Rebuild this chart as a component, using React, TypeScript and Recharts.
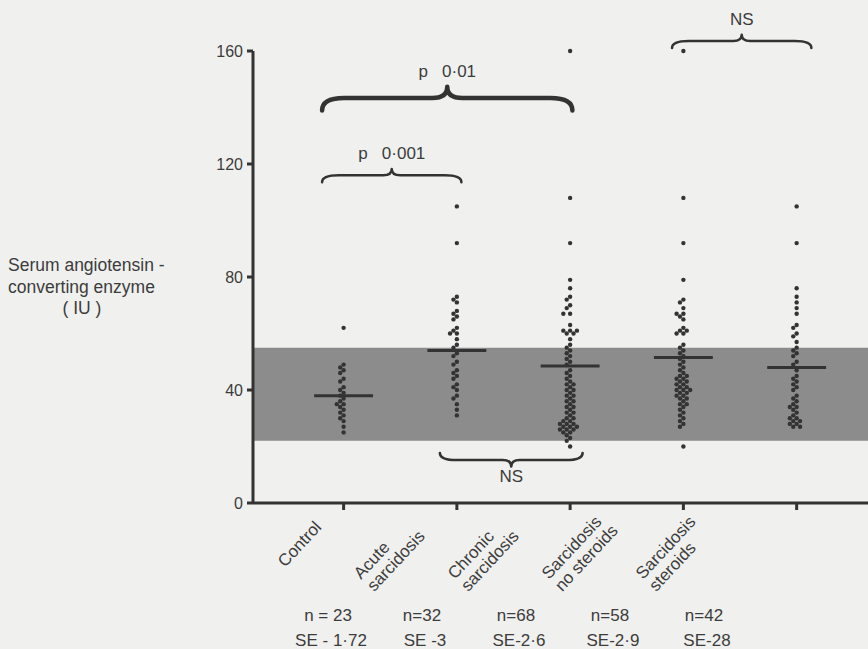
import { ScatterChart, Scatter, XAxis, YAxis, ReferenceArea, ReferenceLine, Label } from 'recharts';

// Serum ACE by patient group.
const categoryLines = [
  ['Control'],
  ['Acute', 'sarcidosis'],
  ['Chronic', 'sarcidosis'],
  ['Sarcidosis', 'no steroids'],
  ['Sarcidosis', 'steroids'],
];
const nLabels = ['n = 23', 'n=32', 'n=68', 'n=58', 'n=42'];
const seLabels = ['SE - 1·72', 'SE -3', 'SE-2·6', 'SE-2·9', 'SE-28'];

const control = [62, 49, 48, 47, 46, 44, 43, 41, 40, 39, 38, 37, 36, 35, 35, 34, 33, 32, 31, 30, 29, 27, 25];
const acute = [105, 92, 73, 72, 71, 68, 67, 66, 65, 62, 61, 60, 60, 58, 56, 55, 53, 52, 50, 49, 47, 46, 45, 44, 42, 41, 40, 38, 37, 35, 33, 31];
const chronic = [
  160, 108, 92, 79, 76, 73, 72, 70, 69, 67, 67, 63, 61, 61, 61, 60, 60, 58,
  56, 55, 54, 53, 52, 51, 50, 49,
  47, 46, 45, 44, 43, 42, 42, 41, 40, 40, 39, 38, 38, 37, 36, 36, 35, 34, 34, 33,
  32, 32, 31, 30, 30, 29, 29, 28, 28, 28, 27, 27, 27, 26, 26, 26, 25, 25, 24, 23, 22, 20,
];
const noSteroids = [
  160, 108, 92, 79, 72, 71, 69, 67, 67, 66, 65, 62, 61, 61, 60, 60, 56,
  55, 54, 53, 52, 51, 50, 49, 48, 47, 46, 45, 45, 44, 44, 43, 43, 42, 42, 41, 41,
  40, 40, 40, 39, 39, 38, 38, 37, 37, 36, 35, 35, 34, 33, 32, 31, 30, 29, 28, 27, 20,
];
const steroids = [
  105, 92, 76, 73, 71, 69, 67, 63, 62, 60, 59, 57, 55, 54, 53, 52, 50, 49, 47, 45, 44,
  43, 42, 41, 40, 38, 37, 36, 35, 34, 34, 33, 32, 31, 30, 30, 29, 29, 28, 28, 27, 27,
];
const groups = [control, acute, chronic, noSteroids, steroids];
const groupMeans = [38, 54, 48.5, 51.5, 48];
const normalRange = [22, 55];
const yTicks = [0, 40, 80, 120, 160];

// significance brackets, in data space (x = group position, y = IU)
const comparisons = [
  { label: 'p   0·01', from: 0.81, to: 3.02, at: 143.4, side: 'up' },
  { label: 'p   0·001', from: 0.81, to: 2.04, at: 116, side: 'up' },
  { label: 'NS', from: 3.9, to: 5.13, at: 163.5, side: 'up' },
  { label: 'NS', from: 1.85, to: 3.11, at: 15.2, side: 'down' },
];

const W = 868;
const H = 649;
const INK = '#333';
const TEXT = '#3c3c3c';
const FONT = '"Liberation Sans", Arial, sans-serif';
const PX_Y = 452 / 160;
const PX_X = 113.2;

// deterministic beeswarm: push dots sideways until they stop overlapping
function swarm(values: number[], center: number) {
  const placed: { px: number; py: number }[] = [];
  const minD = 3.9;
  const step = 3.4;
  return values.map((v) => {
    const py = v * PX_Y;
    let px = 0;
    for (let k = 0; k < 40; k++) {
      const cand = (k % 2 === 0 ? 1 : -1) * Math.ceil(k / 2) * step;
      const hit = placed.some((p) => (p.px - cand) ** 2 + (p.py - py) ** 2 < minD * minD);
      if (!hit) { px = cand; break; }
    }
    placed.push({ px, py });
    return { x: center + px / PX_X, y: v };
  });
}

// the group captions sit on their own, slightly narrower grid than the dot columns
const captionPts = categoryLines.map((_, i) => ({ x: i + 1, y: 0, i }));

const Dot = (p: any) => <circle cx={p.cx} cy={p.cy} r={2.2} fill={INK} />;

function Brace(p: any) {
  const { x1, x2, y1, text, side } = p;
  const w = Math.abs(x2 - x1);
  const s = side === 'up' ? -1 : 1;
  const c = w * 0.05;
  const h = w * 0.045;
  const r = Math.min(22, w * 0.12);
  const r2 = w * 0.06;
  const xm = (x1 + x2) / 2;
  const y0 = y1;
  const d = `M${x1},${y0 - s * c} Q${x1},${y0} ${x1 + r},${y0} L${xm - r2},${y0} Q${xm},${y0} ${xm},${y0 + s * h}`
    + ` Q${xm},${y0} ${xm + r2},${y0} L${x2 - r},${y0} Q${x2},${y0} ${x2},${y0 - s * c}`;
  const sw = Math.max(2.4, w * 0.018);
  const ty = side === 'up' ? y0 - h - 10 : y0 + h + 16;
  return (
    <g>
      <path d={d} fill="none" stroke={INK} strokeWidth={sw} strokeLinecap="round" strokeLinejoin="round" />
      <text x={xm} y={ty} textAnchor="middle" fontSize={17} fill={TEXT} fontFamily={FONT} style={{ whiteSpace: 'pre' }}>{text}</text>
    </g>
  );
}

function Caption(p: any) {
  const { cx, cy, payload } = p;
  const i = payload.i;
  const lines = categoryLines[i];
  const n = lines.length;
  const lx = -43 - 18 * (n - 1);
  const ly = 65 + 12 * (n - 1);
  return (
    <g fontFamily={FONT} fontSize={17} fill={TEXT}>
      <g transform={`translate(${cx + lx},${cy + ly}) rotate(-47)`}>
        {lines.map((l, k) => (
          <text key={k} x={0} y={k * 18} textAnchor="start">{l}</text>
        ))}
      </g>
      <text x={cx} y={cy + 118} textAnchor="middle" style={{ whiteSpace: 'pre' }}>{nLabels[i]}</text>
      <text x={cx + 3} y={cy + 143} textAnchor="middle" style={{ whiteSpace: 'pre' }}>{seLabels[i]}</text>
    </g>
  );
}

function AxisTitle(p: any) {
  const vb = p.viewBox;
  const base = vb.y + vb.height * 0.487;
  return (
    <g fontFamily={FONT} fontSize={17.5} fill={TEXT}>
      <text x={8} y={base}>Serum angiotensin -</text>
      <text x={8} y={base + 21.5}>converting enzyme</text>
      <text x={82} y={base + 43} textAnchor="middle" style={{ whiteSpace: 'pre' }}>( IU )</text>
    </g>
  );
}

export default function App() {
  return (
    <div style={{ width: W, height: H, background: '#f0f0ee' }}>
      <style>{'body{margin:0;background:#f0f0ee}'}</style>
      <ScatterChart width={W} height={H} margin={{ top: 51, right: 0, bottom: 0, left: 0 }}>
        <XAxis
          xAxisId="cat" dataKey="x" type="number" domain={[0.2, 5.63]} ticks={[1, 2, 3, 4, 5]}
          allowDataOverflow height={146} tickSize={7}
          axisLine={{ stroke: INK, strokeWidth: 3 }} tickLine={{ stroke: INK, strokeWidth: 3 }}
          tick={() => <g />}
        />
        <XAxis xAxisId="stats" dataKey="x" type="number" domain={[0.202, 6.745]} allowDataOverflow hide />
        <YAxis
          dataKey="y" type="number" domain={[0, 160]} ticks={yTicks} width={253} tickSize={6} tickMargin={4}
          axisLine={{ stroke: INK, strokeWidth: 3 }} tickLine={{ stroke: INK, strokeWidth: 3 }}
          tick={{ fontSize: 16, fill: TEXT, fontFamily: FONT }}
        >
          <Label content={<AxisTitle />} />
        </YAxis>
        <ReferenceArea xAxisId="cat" y1={normalRange[0]} y2={normalRange[1]} fill="#8c8c8c" fillOpacity={1} stroke="none" />
        {groups.map((g, i) => (
          <Scatter key={i} xAxisId="cat" data={swarm(g, i + 1)} shape={Dot} isAnimationActive={false} />
        ))}
        <Scatter xAxisId="stats" data={captionPts} shape={Caption} isAnimationActive={false} />
        {groupMeans.map((m, i) => (
          <ReferenceLine
            key={`m${i}`} xAxisId="cat" ifOverflow="visible"
            segment={[{ x: i + 1 - 0.26, y: m }, { x: i + 1 + 0.26, y: m }]}
            stroke={INK} strokeWidth={3}
          />
        ))}
        {comparisons.map((b, i) => (
          <ReferenceLine
            key={`b${i}`} xAxisId="cat" ifOverflow="visible"
            segment={[{ x: b.from, y: b.at }, { x: b.to, y: b.at }]}
            shape={(p: any) => <Brace {...p} text={b.label} side={b.side} />}
          />
        ))}
      </ScatterChart>
    </div>
  );
}
